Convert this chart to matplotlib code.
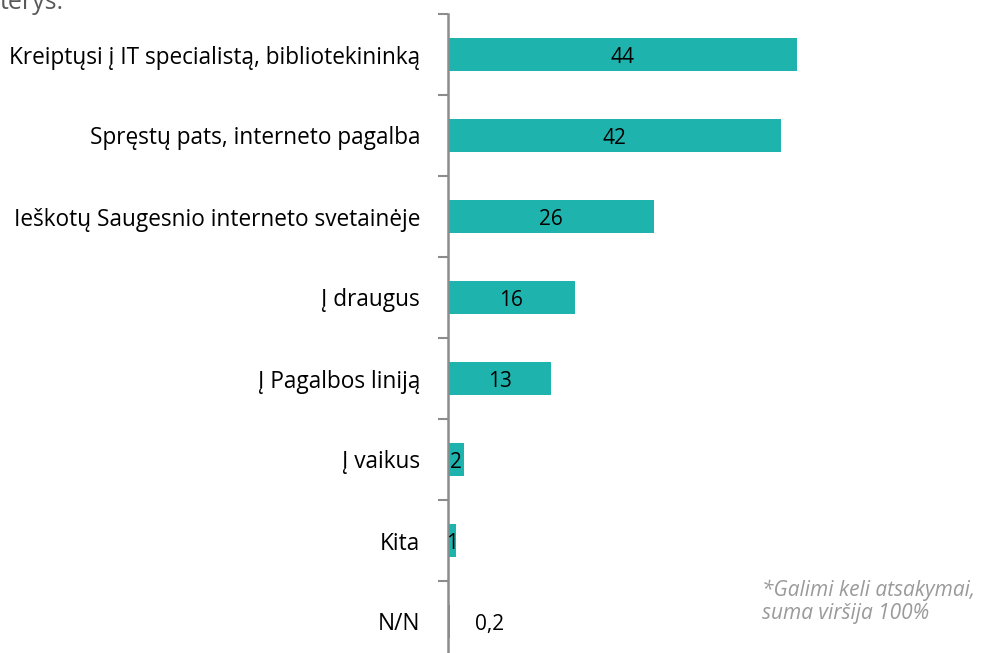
import matplotlib.pyplot as plt
import numpy as np

categories = [
    "Kreiptųsi į IT specialistą, bibliotekininką",
    "Spręstų pats, interneto pagalba",
    "Ieškotų Saugesnio interneto svetainėje",
    "Į draugus",
    "Į Pagalbos liniją",
    "Į vaikus",
    "Kita",
    "N/N",
]
values = [44, 42, 26, 16, 13, 2, 1, 0.2]
value_labels = ["44", "42", "26", "16", "13", "2", "1", "0,2"]

plt.rcParams["font.family"] = ["Open Sans", "DejaVu Sans"]

fig = plt.figure(figsize=(9.81, 6.53), dpi=100)
ax = fig.add_axes([448 / 981, 1 - 662 / 653, 532 / 981, 648 / 653])

y = np.arange(len(categories))
ax.barh(y, values, height=0.4, color="#1fb3ad")
ax.set_ylim(len(categories) - 0.5, -0.5)
ax.set_xlim(0, 67.1)

for yi, v, lab in zip(y, values, value_labels):
    if v >= 10:
        x = v / 2
    elif v >= 1:
        x = max(v / 2, 0.35)
    else:
        x = 5.3
    ax.text(x, yi + 0.04, lab, ha="center", va="center", fontsize=15, color="black")

ax.set_yticks(y)
ax.set_yticklabels(categories, fontsize=16.3)
ax.set_yticks(np.arange(-0.5, len(categories) + 0.5, 1), minor=True)
ax.tick_params(axis="y", which="major", length=0, pad=20)
ax.tick_params(axis="y", which="minor", length=7, width=1.5, color="#8c8c8c", direction="out")
ax.set_xticks([])
for s in ["top", "right", "bottom"]:
    ax.spines[s].set_visible(False)
ax.spines["left"].set_color("#8c8c8c")
ax.spines["left"].set_linewidth(1.8)

fig.text(0.0, 1 - 9 / 653, "terys.", fontsize=18, color="#595959", va="baseline")
fig.text(762 / 981, 1 - 590 / 653, "*Galimi keli atsakymai,", fontsize=15,
         style="italic", color="#9a9a9a", va="center")
fig.text(762 / 981, 1 - 614 / 653, "suma viršija 100%", fontsize=15,
         style="italic", color="#9a9a9a", va="center")

fig.savefig("out.png", dpi=100)
